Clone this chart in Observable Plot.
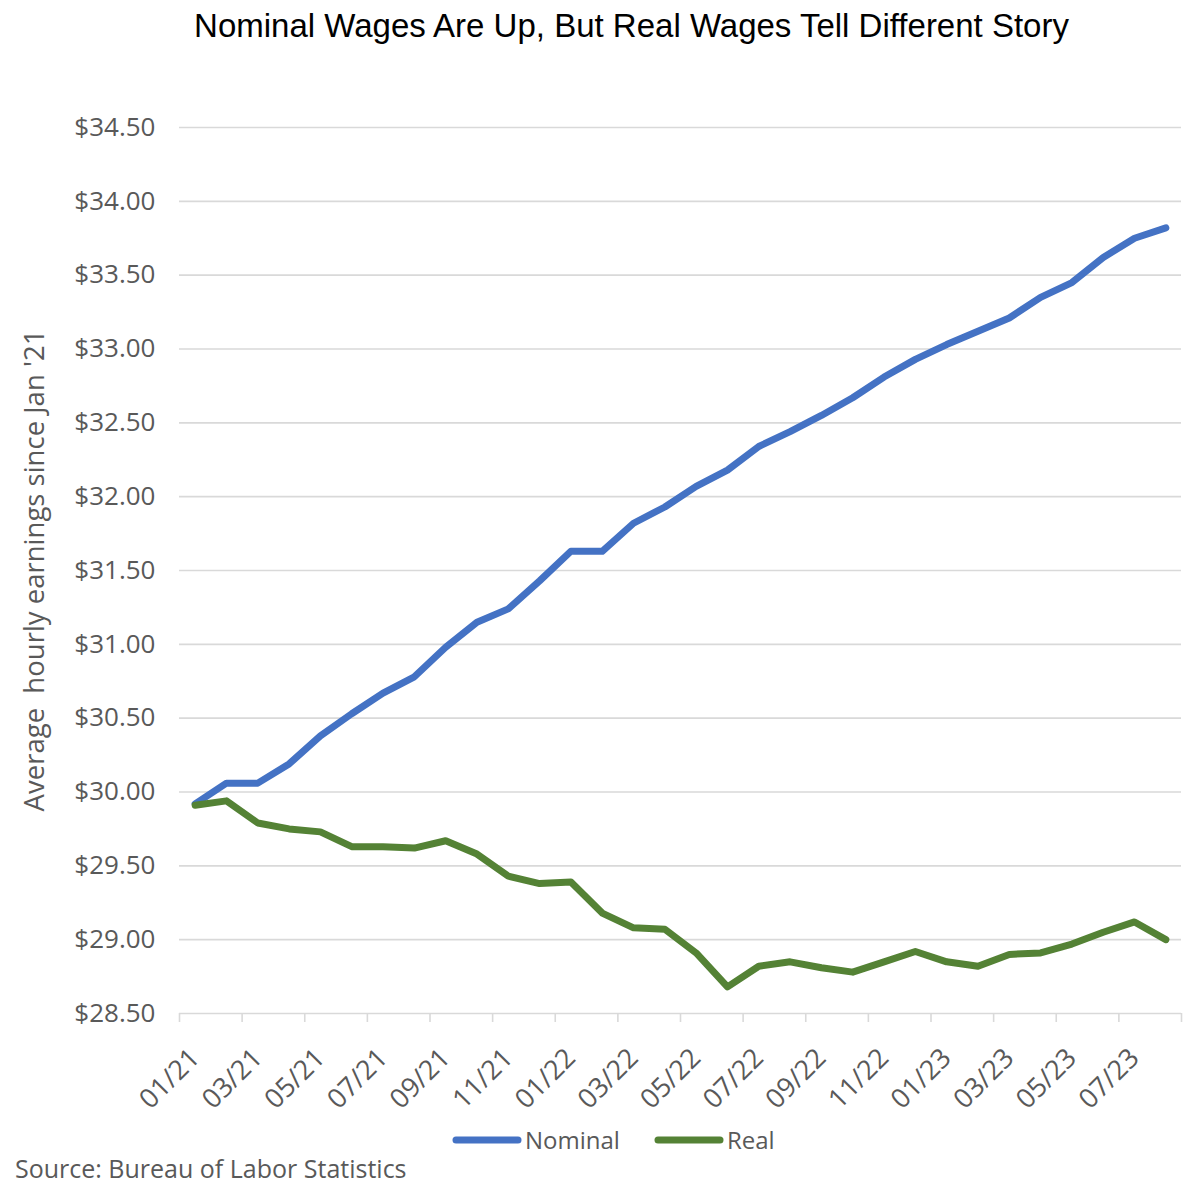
<!DOCTYPE html>
<html>
<head>
<meta charset="utf-8">
<script src="https://cdn.jsdelivr.net/npm/d3@7"></script>
<script src="https://cdn.jsdelivr.net/npm/@observablehq/plot@0.6"></script>
<style>
  html, body { margin: 0; padding: 0; background: #fff; }
  #wrap { position: relative; width: 1201px; height: 1191px; overflow: hidden; }
  #title { position: absolute; left: 31px; top: 6px; width: 1201px; text-align: center;
    font-family: "Liberation Sans", Arial, sans-serif; font-size: 33px; color: #000; line-height: 40px; }
  #chart { position: absolute; left: 0; top: 60px; }
  #legend { position: absolute; left: 452px; top: 1122px; display: flex; align-items: center;
    font-family: "Open Sans", sans-serif; font-size: 24px; color: #595959; line-height: 36px; }
  #legend .item { display: flex; align-items: center; margin-right: 34px; }
  #legend svg { margin-right: 3px; }
  #source { position: absolute; left: 15px; top: 1150px; font-family: "Open Sans", sans-serif;
    font-size: 25px; color: #595959; line-height: 36px; }
</style>
</head>
<body>
<div id="wrap">
  <div id="title">Nominal Wages Are Up, But Real Wages Tell Different Story</div>
  <div id="chart"></div>
  <div id="legend"></div>
  <div id="source">Source: Bureau of Labor Statistics</div>
</div>
<script>
// Categories (monthly, Jan 2021 – Aug 2023)
const months = ["01/21","02/21","03/21","04/21","05/21","06/21","07/21","08/21","09/21","10/21","11/21","12/21",
                "01/22","02/22","03/22","04/22","05/22","06/22","07/22","08/22","09/22","10/22","11/22","12/22",
                "01/23","02/23","03/23","04/23","05/23","06/23","07/23","08/23"];
// Nominal average hourly earnings
const nominal = [29.92,30.06,30.06,30.19,30.38,30.53,30.67,30.78,30.98,31.15,31.24,31.43,
                 31.63,31.63,31.82,31.93,32.07,32.18,32.34,32.44,32.55,32.67,32.81,32.93,
                 33.03,33.12,33.21,33.35,33.45,33.62,33.75,33.82];
// Real average hourly earnings (Jan '21 dollars)
const real = [29.91,29.94,29.79,29.75,29.73,29.63,29.63,29.62,29.67,29.58,29.43,29.38,
              29.39,29.18,29.08,29.07,28.91,28.68,28.82,28.85,28.81,28.78,28.85,28.92,
              28.85,28.82,28.90,28.91,28.97,29.05,29.12,29.00];
// Y tick values
const yTicks = [28.5,29,29.5,30,30.5,31,31.5,32,32.5,33,33.5,34,34.5];
// Series meta
const seriesNames = ["Nominal","Real"];
const seriesColors = ["#4472C4","#548235"];

const rows = [];
months.forEach((m, i) => {
  rows.push({series: "Nominal", i, month: m, value: nominal[i]});
  rows.push({series: "Real", i, month: m, value: real[i]});
});
const labelIdx = months.map((m, i) => i).filter(i => i % 2 === 0);
const boundaries = d3.range(0, months.length + 1, 2).map(i => i - 0.5);

const grid = "#d9d9d9";
const txt = "#595959";
const font = "Open Sans, sans-serif";

const chart = Plot.plot({
  width: 1201,
  height: 1070,
  marginLeft: 179,
  marginRight: 20,
  marginTop: 67,
  marginBottom: 117,
  style: {fontFamily: font, background: "transparent", overflow: "visible"},
  x: {type: "linear", domain: [-0.5, months.length - 0.5]},
  y: {domain: [28.5, 34.5]},
  color: {domain: seriesNames, range: seriesColors},
  marks: [
    Plot.ruleY(yTicks, {stroke: grid, strokeWidth: 1.6}),
    Plot.axisY(yTicks, {tickSize: 0, tickPadding: 24, fontSize: 26, fill: txt,
      tickFormat: d => "$" + d.toFixed(2), label: null}),
    Plot.axisX(boundaries, {tickSize: 9, stroke: grid, strokeWidth: 1.6, tickFormat: () => "", label: null}),
    Plot.axisX(labelIdx, {tickSize: 0, tickPadding: 40, tickRotate: -45, fontSize: 27, fill: txt,
      tickFormat: i => months[i], label: null}),
    Plot.text(["Average  hourly earnings since Jan '21"], {frameAnchor: "left", dx: -144, rotate: -90,
      fontSize: 27.5, fill: txt, textAnchor: "middle", text: d => d}),
    Plot.line(rows, {x: "i", y: "value", z: "series", stroke: "series", strokeWidth: 7,
      strokeLinecap: "round", strokeLinejoin: "round"})
  ]
});
document.getElementById("chart").appendChild(chart);

const legend = document.getElementById("legend");
seriesNames.forEach((name, k) => {
  const item = document.createElement("div");
  item.className = "item";
  item.innerHTML = `<svg width="70" height="10"><line x1="4" y1="5" x2="66" y2="5" stroke="${seriesColors[k]}" stroke-width="7" stroke-linecap="round"/></svg><span>${name}</span>`;
  legend.appendChild(item);
});
</script>
</body>
</html>
